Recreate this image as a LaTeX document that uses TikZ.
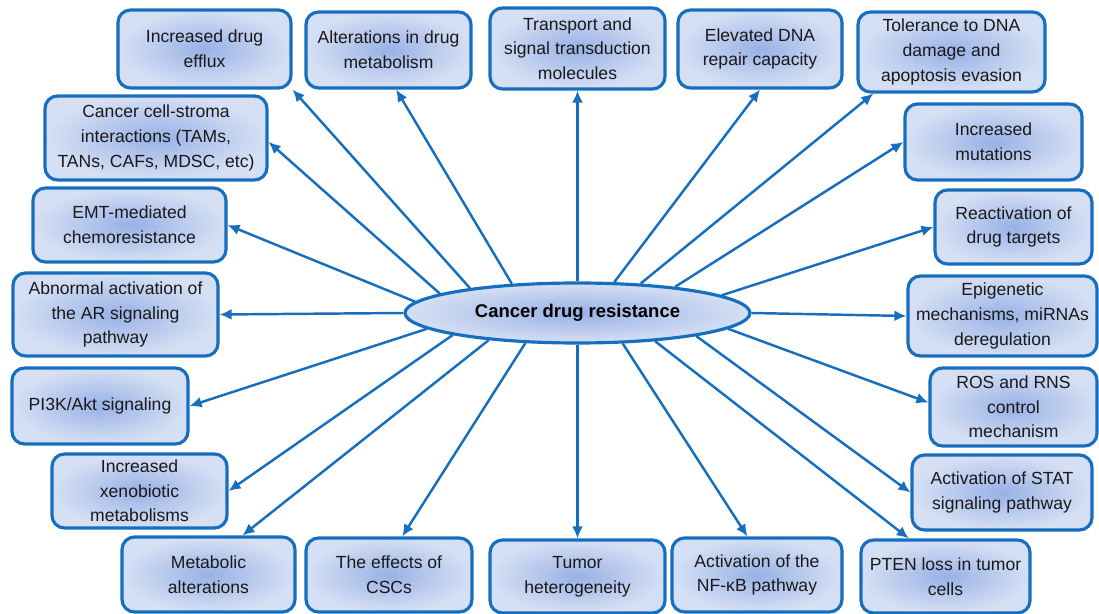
\documentclass[tikz,border=0pt]{standalone}
\usepackage{fontspec}
\setmainfont{Liberation Sans}
\usepackage{tikz}
\usetikzlibrary{arrows.meta, shapes.geometric}
\usepackage{xcolor}
\definecolor{edgeblue}{RGB}{22,110,190}
\definecolor{fillin}{RGB}{152,177,229}
\definecolor{fillout}{RGB}{214,224,244}
\definecolor{inktext}{RGB}{25,25,25}

\begin{document}
\begin{tikzpicture}[
    box/.style={draw=edgeblue, line width=1.8pt, rounded corners=0.25cm,
      shading=radial, inner color=fillin, outer color=fillout,
      align=center, text=inktext, inner sep=0pt,
      font=\fontsize{10}{14}\selectfont},
    hub/.style={ellipse, draw=edgeblue, line width=1.8pt,
      shading=radial, inner color=fillin, outer color=fillout,
      minimum width=6.9cm, minimum height=1.2cm, inner sep=0pt,
      text=black, font=\fontsize{10.5}{12}\selectfont\bfseries},
    arr/.style={-{Latex[length=2.4mm,width=2.2mm]}, edgeblue, line width=1.4pt}
  ]
  \useasboundingbox (0,0) rectangle (21.98,-12.28);

  \node[hub] (crd) at (11.55,-6.26) {Cancer drug resistance};

  % top row
  \node[box, minimum width=3.46cm, minimum height=1.56cm] (efflux) at (4.09,-0.98) {Increased drug\\efflux};
  \node[box, minimum width=3.3cm, minimum height=1.52cm] (alter) at (7.77,-1.0) {Alterations in drug\\metabolism};
  \node[box, minimum width=3.5cm, minimum height=1.62cm] (transp) at (11.55,-0.97) {Transport and\\signal transduction\\molecules};
  \node[box, minimum width=3.28cm, minimum height=1.56cm] (dna) at (15.2,-0.98) {Elevated DNA\\repair capacity};
  \node[box, minimum width=3.74cm, minimum height=1.6cm] (toler) at (19.03,-1.04) {Tolerance to DNA\\damage and\\apoptosis evasion};

  % left column
  \node[box, minimum width=4.44cm, minimum height=1.68cm] (stroma) at (3.12,-2.76) {Cancer cell-stroma\\interactions (TAMs,\\TANs, CAFs, MDSC, etc)};
  \node[box, minimum width=3.86cm, minimum height=1.48cm] (emt) at (2.59,-4.5) {EMT-mediated\\chemoresistance};
  \node[box, minimum width=4.1cm, minimum height=1.66cm] (ar) at (2.31,-6.29) {Abnormal activation of\\the AR signaling\\pathway};
  \node[box, minimum width=3.52cm, minimum height=1.52cm] (pik) at (2.0,-8.12) {PI3K/Akt signaling};
  \node[box, minimum width=3.5cm, minimum height=1.48cm] (xeno) at (2.79,-9.82) {Increased\\xenobiotic\\metabolisms};

  % bottom row
  \node[box, minimum width=3.46cm, minimum height=1.5cm] (metab) at (4.17,-11.49) {Metabolic\\alterations};
  \node[box, minimum width=3.32cm, minimum height=1.48cm] (csc) at (7.78,-11.5) {The effects of\\CSCs};
  \node[box, minimum width=3.5cm, minimum height=1.46cm] (tumor) at (11.55,-11.53) {Tumor\\heterogeneity};
  \node[box, minimum width=3.4cm, minimum height=1.48cm] (nfkb) at (15.14,-11.5) {Activation of the\\NF-κB pathway};
  \node[box, minimum width=3.38cm, minimum height=1.46cm] (pten) at (18.91,-11.53) {PTEN loss in tumor\\cells};

  % right column
  \node[box, minimum width=3.54cm, minimum height=1.52cm] (mut) at (19.87,-2.84) {Increased\\mutations};
  \node[box, minimum width=3.14cm, minimum height=1.48cm] (react) at (20.27,-4.54) {Reactivation of\\drug targets};
  \node[box, minimum width=3.78cm, minimum height=1.6cm] (epi) at (20.05,-6.32) {Epigenetic\\mechanisms, miRNAs\\deregulation};
  \node[box, minimum width=3.34cm, minimum height=1.56cm] (ros) at (20.27,-8.14) {ROS and RNS\\control\\mechanism};
  \node[box, minimum width=3.6cm, minimum height=1.5cm] (stat) at (20.04,-9.85) {Activation of STAT\\signaling pathway};

  \draw[arr] (crd.176) -- (emt.east);
  \draw[arr] (crd.172) -- (stroma.358);
  \draw[arr] (crd.167) -- (efflux.south east);
  \draw[arr] (crd.156) -- (alter.281);
  \draw[arr] (crd.90) -- (transp.south);
  \draw[arr] (crd.40) -- (dna.south);
  \draw[arr] (crd.25) -- (toler.208);
  \draw[arr] (crd.15) -- (mut.west);
  \draw[arr] (crd.7) -- (react.west);
  \draw[arr] (crd.0) -- (epi.west);
  \draw[arr] (crd.180) -- (ar.east);
  \draw[arr] (crd.186) -- (pik.east);
  \draw[arr] (crd.190) -- (xeno.east);
  \draw[arr] (crd.197) -- (metab.49);
  \draw[arr] (crd.210) -- (csc.71);
  \draw[arr] (crd.270) -- (tumor.north);
  \draw[arr] (crd.326) -- (nfkb.104);
  \draw[arr] (crd.340) -- (pten.134);
  \draw[arr] (crd.349) -- (stat.west);
  \draw[arr] (crd.354) -- (ros.177);
\end{tikzpicture}
\end{document}
